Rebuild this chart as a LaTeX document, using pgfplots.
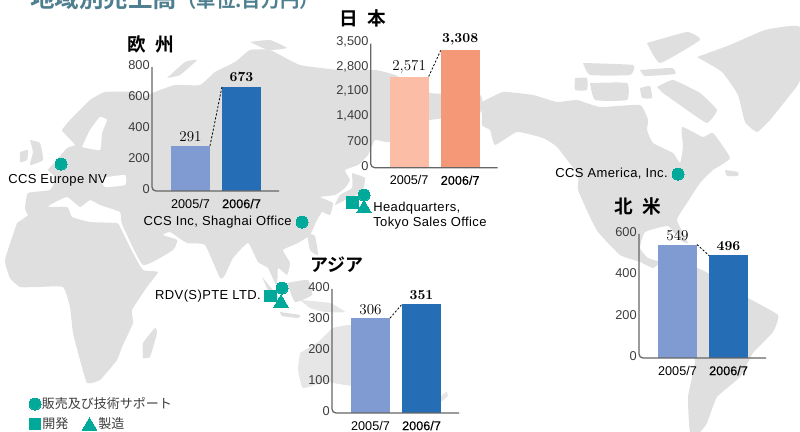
\documentclass[border=0pt]{standalone}
\usepackage{fontspec}
\usepackage{pgfplots}
\pgfplotsset{compat=1.18}
\newfontfamily\tsans{Liberation Sans}
\newfontfamily\tsansb[FakeBold=0.4]{Liberation Sans}
\newfontfamily\lab[LetterSpace=3]{Liberation Sans}
\newfontfamily\cjk{Noto Sans CJK JP}
\newfontfamily\cjkb{Noto Sans CJK JP Bold}
\definecolor{mapg}{HTML}{DFDFDF}
\definecolor{mapp}{HTML}{E6E6E6}
\definecolor{teal2}{HTML}{00A99A}
\definecolor{lblue}{HTML}{7F9BD1}
\definecolor{dblue}{HTML}{256EB5}
\definecolor{lor}{HTML}{FBBDA5}
\definecolor{dor}{HTML}{F59877}
\definecolor{titlec}{HTML}{4E7F8F}
\definecolor{axg}{HTML}{666666}
\definecolor{tickg}{HTML}{3C3C3C}
\pgfplotsset{
  land/.style={fill=mapg,draw=none,forget plot,smooth,tension=0.25},
  sea/.style={fill=white,draw=none,forget plot,smooth,tension=0.25},
  barax/.style={
    scale only axis, height=93pt, width=95.25pt,
    xmin=0,xmax=127,ymin=0,clip=false,
    axis line style={draw=none},
    tick style={draw=none},
    xtick={38.5,89.5},
    xticklabels={{\tsans 2005/7},{\tsansb 2006/7}},
    xticklabel style={font=\tsans\fontsize{9.5}{11}\selectfont,text=black,yshift=0.5pt,inner sep=2pt},
    yticklabel style={font=\tsans\fontsize{9.6}{11}\selectfont,text=tickg,yshift=1.5pt,inner sep=1.5pt},
    /pgf/number format/assume math mode=true,
    /pgf/number format/1000 sep={,},
    ybar, bar width=29.25pt, bar shift=0pt,
    nodes near coords,
    nodes near coords align={vertical},
  },
  v5/.style={every node near coord/.append style={font=\fontsize{11.3}{13}\selectfont,text=black,inner sep=1.5pt,yshift=1pt}},
  v6/.style={every node near coord/.append style={font=\bfseries\fontsize{10.3}{12}\selectfont,text=black,inner sep=1.5pt,yshift=2pt}},
}
\newcommand{\axline}[2]{\draw[axg,line width=0.95pt,rounded corners=3pt] (axis cs:0,#2)--(axis cs:0,0)--(axis cs:#1,0);}
\newcommand{\conn}[2]{\draw[black,line width=0.6pt,dash pattern=on 1.6pt off 1.3pt] (axis cs:58,#1)--(axis cs:70,#2);}
\begin{document}
\begin{tikzpicture}
\useasboundingbox (0,0) rectangle (600pt,324pt);
\begin{axis}[at={(0,0)},anchor=south west,scale only axis,width=600pt,height=324pt,
  xmin=0,xmax=800,ymin=0,ymax=432,y dir=reverse,hide axis,clip=true]
% Africa
\addplot[land] coordinates {(17,223)(40,208)(67,207)(72,217)(90,222)(117,223)(120,227)(133,253)(143,270)(158,272)(147,287)(132,310)(133,323)(122,347)(117,360)(100,380)(87,383)(80,360)(73,333)(70,307)(63,287)(37,287)(20,287)(10,278)(5,260)(17,223)};
% Eurasia
\addplot[land] coordinates {(25,208)(28,193)(50,190)(56,178)(48,170)(55,162)(67,148)(75,145)(66,135)(62,130)(70,120)(90,100)(105,92)(135,92)(140,98)(130,103)(155,92)(175,85)(200,85)(215,72)(235,62)(250,50)(270,50)(300,65)(340,70)(375,70)(395,75)(430,93)(480,95)(480,113)(430,120)(410,125)(389,142)(375,140)(368,155)(358,165)(345,170)(350,180)(345,188)(335,195)(320,197)(333,203)(330,215)(322,212)(316,222)(310,235)(298,243)(283,250)(290,263)(287,275)(278,268)(277,287)(268,268)(258,262)(248,243)(233,258)(225,275)(220,278)(205,245)(187,243)(170,232)(163,235)(177,240)(173,250)(143,265)(122,224)(120,212)(100,205)(90,200)(80,207)(67,197)(50,205)(42,215)(28,215)(25,208)};
\addplot[sea] coordinates {(82,147)(90,130)(100,117)(107,120)(102,133)(100,150)(82,147)};
\addplot[sea] coordinates {(100,178)(125,175)(125,185)(105,187)(100,178)};
% Britain, Ireland, Arctic
\addplot[land] coordinates {(30,140)(40,143)(43,160)(30,165)(33,152)(30,140)};
\addplot[land] coordinates {(20,152)(28,150)(27,160)(20,162)(20,152)};
\addplot[land] coordinates {(167,78)(185,62)(197,60)(180,75)(167,78)};
\addplot[land] coordinates {(250,42)(270,40)(287,48)(268,50)(250,42)};
% Japan, Philippines, Indonesia
\addplot[land] coordinates {(352,173)(365,178)(362,192)(345,200)(335,205)(340,195)(352,188)(352,173)};
\addplot[land] coordinates {(307,233)(315,236)(318,255)(310,250)(307,233)};
\addplot[land] coordinates {(287,283)(308,280)(312,295)(295,302)(287,283)};
\addplot[land] coordinates {(262,277)(277,295)(285,305)(272,298)(262,277)};
\addplot[land] coordinates {(280,312)(300,315)(298,318)(282,316)(280,312)};
\addplot[fill=mapp,draw=none,forget plot,smooth,tension=0.25] coordinates {(300,300)(330,303)(345,312)(325,312)(310,308)(300,300)};
% Madagascar
\addplot[land] coordinates {(143,358)(143,343)(155,328)(157,333)(150,357)(143,358)};
% Australia and NZ
\addplot[fill=mapp,draw=none,forget plot,smooth,tension=0.25] coordinates {(300,353)(318,342)(333,328)(350,325)(375,330)(385,335)(389,345)(389,375)(375,388)(345,385)(325,382)(303,388)(298,370)(300,353)};
\addplot[fill=mapp,draw=none,forget plot,smooth,tension=0.25] coordinates {(434,402)(446,392)(448,396)(438,404)(434,402)};
% North America
\addplot[land] coordinates {(482,102)(503,92)(533,95)(557,102)(577,100)(600,107)(640,105)(648,120)(647,130)(653,143)(673,153)(680,163)(683,147)(682,127)(703,137)(713,133)(730,158)(713,170)(700,183)(687,203)(677,220)(688,243)(680,240)(668,226)(645,232)(640,248)(648,258)(660,262)(653,268)(640,262)(620,255)(598,232)(590,217)(578,190)(578,175)(557,147)(543,138)(517,132)(495,145)(490,130)(482,125)(482,102)};
\addplot[land] coordinates {(725,170)(738,172)(738,176)(727,176)(725,170)};
% Arctic Canada
\addplot[land] coordinates {(657,87)(673,80)(700,93)(717,110)(707,123)(687,110)(663,93)(657,87)};
\addplot[land] coordinates {(590,83)(627,83)(627,100)(595,100)(590,83)};
\addplot[land] coordinates {(575,78)(587,78)(587,90)(575,90)(575,78)};
\addplot[land] coordinates {(647,43)(687,32)(700,40)(660,63)(647,43)};
\addplot[land] coordinates {(583,63)(633,65)(630,75)(590,75)(583,63)};
\addplot[land] coordinates {(640,70)(672,68)(675,74)(645,76)(640,70)};
\addplot[land] coordinates {(640,88)(650,86)(652,98)(642,98)(640,88)};
% Greenland
\addplot[land] coordinates {(697,57)(730,45)(765,30)(800,27)(800,80)(790,95)(770,120)(757,132)(745,122)(738,95)(722,72)(697,57)};
% South America
\addplot[land] coordinates {(665,272)(697,268)(720,280)(748,298)(778,315)(773,332)(753,353)(740,377)(717,397)(707,423)(700,432)(690,432)(688,397)(695,360)(680,340)(660,310)(658,290)(665,272)};
% office symbols
\addplot[only marks,mark=*,mark size=4.5pt,mark options={fill=teal2,draw=teal2,line width=0pt},forget plot] coordinates {(61,164)(302,222)(678,174)(282,288)(364,195)(35,404)};
\addplot[only marks,mark=square*,mark size=4.3pt,mark options={fill=teal2,draw=teal2,line width=0pt},forget plot] coordinates {(270.5,296)(352.5,202.5)(35,424)};
\addplot[only marks,mark=triangle*,mark size=6.4pt,mark options={fill=teal2,draw=teal2,line width=0pt},forget plot] coordinates {(281,303)(364,208.5)(89.5,426)};
% texts
\node[anchor=base west,inner sep=0,text=titlec,font=\cjkb\fontsize{18.4}{20}\selectfont] at (axis cs:30,7.5) {地域別売上高{\fontsize{14.5}{15}\selectfont（単位:百万円）}};
\node[anchor=west,inner sep=0,font=\lab\fontsize{9.75}{11}\selectfont] at (axis cs:8,180) {CCS Europe NV};
\node[anchor=east,inner sep=0,font=\lab\fontsize{9.75}{11}\selectfont] at (axis cs:292,222) {CCS Inc, Shaghai Office};
\node[anchor=east,inner sep=0,font=\lab\fontsize{9.75}{11}\selectfont] at (axis cs:261,296) {RDV(S)PTE LTD.};
\node[anchor=west,inner sep=0,font=\lab\fontsize{9.75}{11}\selectfont] at (axis cs:373,208) {Headquarters,};
\node[anchor=west,inner sep=0,font=\lab\fontsize{9.75}{11}\selectfont] at (axis cs:373,223) {Tokyo Sales Office};
\node[anchor=east,inner sep=0,font=\lab\fontsize{9.75}{11}\selectfont] at (axis cs:668,174) {CCS America, Inc.};
\node[anchor=west,inner sep=0,text=tickg,font=\cjk\fontsize{9.75}{11}\selectfont] at (axis cs:41.5,404) {販売及び技術サポート};
\node[anchor=west,inner sep=0,text=tickg,font=\cjk\fontsize{9.75}{11}\selectfont] at (axis cs:42,424) {開発};
\node[anchor=west,inner sep=0,text=tickg,font=\cjk\fontsize{9.75}{11}\selectfont] at (axis cs:98,424) {製造};
\node[anchor=west,inner sep=0,font=\cjkb\fontsize{14}{16}\selectfont] at (axis cs:127,44) {欧\hspace{7pt}州};
\node[anchor=west,inner sep=0,font=\cjkb\fontsize{14}{16}\selectfont] at (axis cs:339,18) {日\hspace{7pt}本};
\node[anchor=west,inner sep=0,font=\cjkb\fontsize{14}{16}\selectfont] at (axis cs:614,206) {北\hspace{7pt}米};
\node[anchor=west,inner sep=0,font=\cjkb\fontsize{13.5}{16}\selectfont] at (axis cs:310,265) {アジア};
\end{axis}

% Europe
\begin{axis}[barax,at={(114pt,180.75pt)},anchor=origin,ymax=800,ytick={0,200,400,600,800}]
\addplot[fill=lblue,draw=none,v5] coordinates {(38.5,291)};
\addplot[fill=dblue,draw=none,v6] coordinates {(89.5,673)};
\conn{291}{673}
\axline{127}{800}
\end{axis}
% Japan
\begin{axis}[barax,at={(278pt,198.25pt)},anchor=origin,xmax=127,ymax=3500,ytick={0,700,1400,2100,2800,3500}]
\addplot[fill=lor,draw=none,v5] coordinates {(38.5,2571)};
\addplot[fill=dor,draw=none,v6] coordinates {(89.5,3308)};
\conn{2571}{3308}
\axline{127}{3500}
\end{axis}
% Asia
\begin{axis}[barax,at={(249pt,14.25pt)},anchor=origin,ymax=400,ytick={0,100,200,300,400}]
\addplot[fill=lblue,draw=none,v5] coordinates {(38.5,306)};
\addplot[fill=dblue,draw=none,v6] coordinates {(89.5,351)};
\conn{306}{351}
\axline{127}{400}
\end{axis}
% North America
\begin{axis}[barax,at={(479.25pt,55.5pt)},anchor=origin,ymax=600,ytick={0,200,400,600}]
\addplot[fill=lblue,draw=none,v5] coordinates {(38.5,549)};
\addplot[fill=dblue,draw=none,v6] coordinates {(89.5,496)};
\conn{549}{496}
\axline{127}{600}
\end{axis}
\end{tikzpicture}
\end{document}
